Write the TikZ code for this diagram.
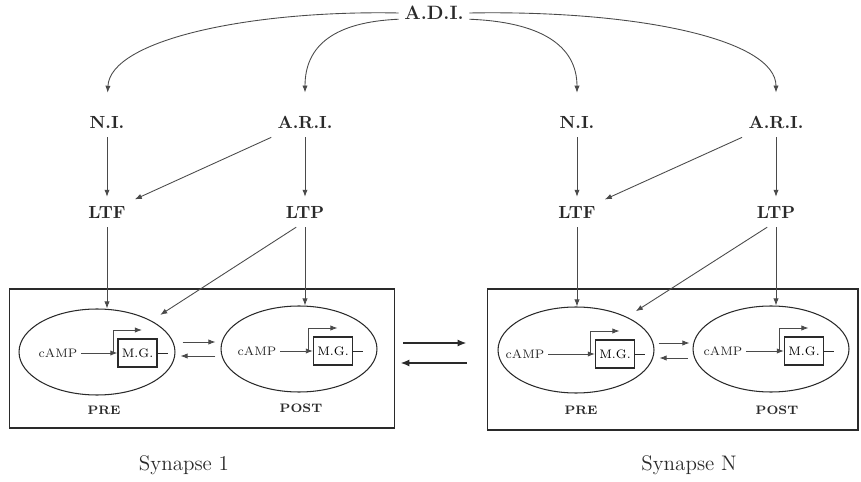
\documentclass[tikz,border=0pt]{standalone}
\usepackage{tikz}
\usetikzlibrary{calc,positioning,shapes.geometric,arrows.meta}
\definecolor{inkgrey}{HTML}{2A2A2A}
\definecolor{linegrey}{HTML}{4A4A4A}
\tikzset{
  lbl/.style     = {font=\normalsize\bfseries, text=inkgrey, inner sep=5pt},
  cell/.style    = {ellipse, draw=inkgrey, line width=0.6pt, inner sep=0pt,
                    minimum width=3.12cm, minimum height=1.72cm},
  gene/.style    = {draw=inkgrey, line width=0.7pt, inner sep=0pt, font=\scriptsize,
                    minimum width=0.78cm, minimum height=0.56cm},
  camp/.style    = {font=\scriptsize, text=inkgrey, inner sep=2pt},
  side/.style    = {font=\scriptsize\bfseries, text=inkgrey},
  synbox/.style  = {draw=inkgrey, line width=0.6pt, inner sep=0pt},
  flow/.style    = {-{Latex[length=4pt,width=3pt]}, draw=linegrey, line width=0.5pt},
  link/.style    = {-{Latex[length=5pt,width=4pt]}, draw=inkgrey, line width=1pt},
  tail/.style    = {draw=inkgrey, line width=0.5pt},
  caption/.style = {font=\large, text=inkgrey},
}

\begin{document}
\begin{tikzpicture}[x=0.02cm, y=-0.02cm]
    \useasboundingbox (0,0) rectangle (861,482);

    % ---------------- top of the cascade
    \node[lbl, font=\fontsize{11}{13}\selectfont\bfseries, inner sep=3pt] (adi) at (434,13) {A.D.I.};

    \node[lbl] (niA)  at (107,122) {N.I.};
    \node[lbl] (ariA) at (305,122) {A.R.I.};
    \node[lbl] (niB)  at (577,122) {N.I.};
    \node[lbl] (ariB) at (776,122) {A.R.I.};

    \node[lbl] (ltfA) at (107,212) {LTF};
    \node[lbl] (ltpA) at (305,212) {LTP};
    \node[lbl] (ltfB) at (577,212) {LTF};
    \node[lbl] (ltpB) at (776,212) {LTP};

    \draw[flow, shorten >=8pt] (adi.west) .. controls (250,10) and (110,40) .. (niA.north);
    \draw[flow, shorten >=8pt] (adi.190) .. controls (335,22) and (305,45) .. (ariA.north);
    \draw[flow, shorten >=8pt] (adi.-10) .. controls (540,22) and (577,45) .. (niB.north);
    \draw[flow, shorten >=8pt] (adi.east) .. controls (640,10) and (776,40) .. (ariB.north);

    \foreach \a/\b in {niA/ltfA, ariA/ltpA, ariA/ltfA, niB/ltfB, ariB/ltpB, ariB/ltfB}
      {\draw[flow] (\a) -- (\b);}

    % ---------------- synapse 1
    \node[synbox, minimum width=7.72cm, minimum height=2.78cm] (synA) at (202,358.5) {};
    \node[cell] (preA)  at (97,352) {};
    \node[cell] (postA) at (299,349) {};
    \node[camp] (campPreA)  at (58,353)  {cAMP};
    \node[gene] (mgPreA)    at (137.5,353) {M.G.};
    \node[camp] (campPostA) at (257,351) {cAMP};
    \node[gene] (mgPostA)   at (333,351) {M.G.};
    \node[side] (preLblA)  at (104,410) {PRE};
    \node[side] (postLblA) at (301,408) {POST};

    % ---------------- synapse N
    \node[synbox, minimum width=7.42cm, minimum height=2.82cm] (synB) at (672.5,359.5) {};
    \node[cell] (preB)  at (576,350) {};
    \node[cell] (postB) at (771,349) {};
    \node[camp] (campPreB)  at (525,354) {cAMP};
    \node[gene] (mgPreB)    at (615,354) {M.G.};
    \node[camp] (campPostB) at (723,351) {cAMP};
    \node[gene] (mgPostB)   at (804,351) {M.G.};
    \node[side] (preLblB)  at (581,410) {PRE};
    \node[side] (postLblB) at (777,410) {POST};

    % genes: cAMP drive, promoter arrow, tail
    \foreach \s in {PreA, PostA, PreB, PostB} {
      \draw[flow] (camp\s) -- (mg\s);
      \draw[flow] ([xshift=-2.5pt]mg\s.west) -- ++(0,-23) -- ++(29,0);
      \draw[tail] (mg\s.east) -- ++(10,0);
    }

    % inputs into the cells
    \draw[flow] (ltfA) -- (ltfA |- preA.north);
    \draw[flow] (ltpA) -- (ltpA |- postA.north);
    \draw[flow, shorten >=6pt] (ltpA.240) -- (preA.30);
    \draw[flow] (ltfB) -- (ltfB |- preB.north);
    \draw[flow] (ltpB) -- (ltpB |- postB.north);
    \draw[flow, shorten >=6pt] (ltpB.240) -- (preB.33);

    % pre <-> post
    \draw[flow] ($(preA.east)+(7,-10)$) -- ($(postA.west)+(-5,-7)$);
    \draw[flow] ($(postA.west)+(-5,7)$) -- ($(preA.east)+(5,4)$);
    \draw[flow] ($(preB.east)+(4,-7)$) -- ($(postB.west)+(-3,-6)$);
    \draw[flow] ($(postB.west)+(-5,9)$) -- ($(preB.east)+(5,8)$);

    % synapse <-> synapse
    \draw[link] ($(synA.east)+(8,-15.5)$) -- ($(synB.west)+(-20,-16.5)$);
    \draw[link] ($(synB.west)+(-20,3.5)$) -- ($(synA.east)+(5,4.5)$);

    \node[caption] (capA) at (184,465) {Synapse 1};
    \node[caption] (capB) at (689,465) {Synapse N};
  \end{tikzpicture}
\end{document}
